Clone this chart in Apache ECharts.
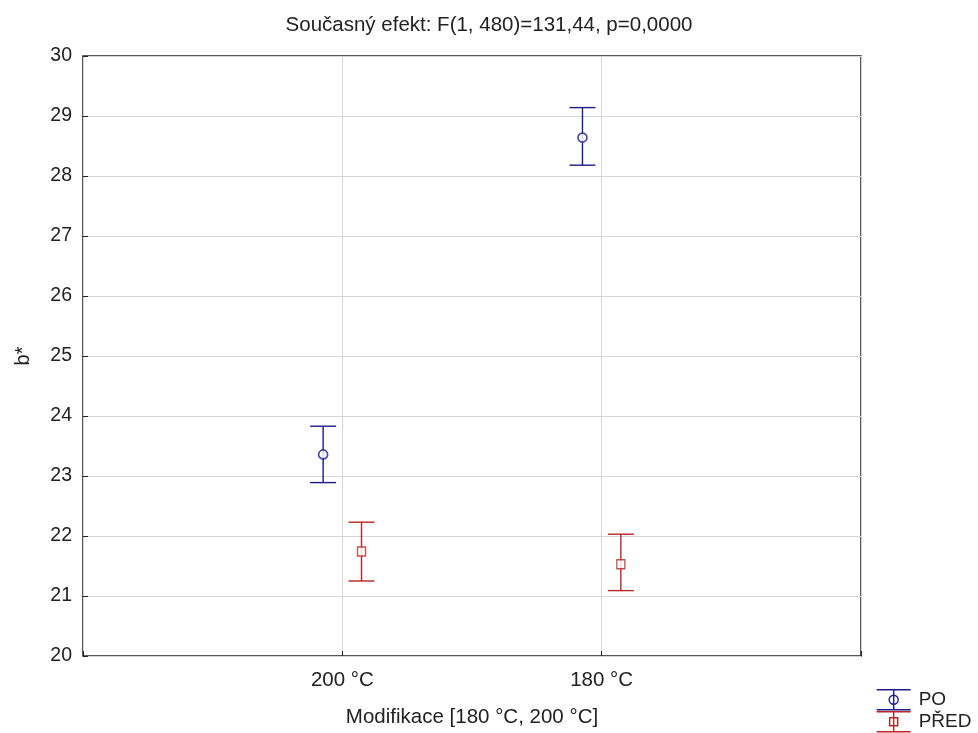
<!DOCTYPE html>
<html>
<head>
<meta charset="utf-8">
<script src="https://cdn.jsdelivr.net/npm/echarts@6/dist/echarts.min.js"></script>
<style>html,body{margin:0;padding:0;background:#fff}#c{width:978px;height:733px}</style>
</head>
<body>
<div id="c"></div>
<script>
const categories = ['200 °C', '180 °C'];
const poMean = [23.36, 28.64];
const poLow = [22.89, 28.18];
const poHigh = [23.83, 29.14];
const predMean = [21.74, 21.53];
const predLow = [21.25, 21.09];
const predHigh = [22.23, 22.03];
const yTicks = [20, 21, 22, 23, 24, 25, 26, 27, 28, 29, 30];

const OFFSET = 0.074;
const BLUE = '#1c1c8a';
const RED = '#b82626';
const FONT = 'Liberation Sans';

function pts(mean, off) { return mean.map((v, i) => [i + 1 + off, v]); }
function bars(low, high, off) { return low.map((v, i) => [i + 1 + off, v, high[i]]); }

function errItem(color) {
  return function (params, api) {
    const x = api.value(0);
    const lo = api.coord([x, api.value(1)]);
    const hi = api.coord([x, api.value(2)]);
    const hw = 13;
    const st = { stroke: color, lineWidth: 1.4 };
    return { type: 'group', children: [
      { type: 'line', shape: { x1: lo[0], y1: lo[1], x2: hi[0], y2: hi[1] }, style: st },
      { type: 'line', shape: { x1: lo[0] - hw, y1: lo[1], x2: lo[0] + hw, y2: lo[1] }, style: st },
      { type: 'line', shape: { x1: hi[0] - hw, y1: hi[1], x2: hi[0] + hw, y2: hi[1] }, style: st }
    ]};
  };
}

function legendFor(name, icon, color, top) {
  return {
    orient: 'vertical', left: 876, top: top, padding: 0,
    itemWidth: 34, itemHeight: 20,
    textStyle: { fontFamily: FONT, fontSize: 19, color: '#222', padding: [0, 0, 0, 3] },
    data: [{ name: name, icon: icon,
      itemStyle: { color: 'transparent', borderColor: color, borderWidth: 1.4 } }]
  };
}

const chart = echarts.init(document.getElementById('c'), null, { renderer: 'canvas' });
chart.setOption({
  backgroundColor: '#fff',
  animation: false,
  textStyle: { fontFamily: FONT },
  title: {
    text: 'Současný efekt: F(1, 480)=131,44, p=0,0000',
    left: 484, top: 10, textAlign: 'center',
    textStyle: { fontFamily: FONT, fontSize: 20.5, fontWeight: 'normal', color: '#222' }
  },
  legend: [
    legendFor('PO', 'path://M0,0L34,0M17,0L17,20M0,20L34,20M12.5,10a4.5,4.5 0 1,0 9,0a4.5,4.5 0 1,0 -9,0z', BLUE, 689),
    legendFor('PŘED', 'path://M0,0L34,0M17,0L17,20M0,20L34,20M13,6L21,6L21,14L13,14Z', RED, 711)
  ],
  grid: { left: 83, right: 117, top: 56, bottom: 77, show: true, borderColor: '#222', borderWidth: 1.5, backgroundColor: 'transparent' },
  xAxis: {
    type: 'value', min: 0, max: 3, interval: 1,
    name: 'Modifikace [180 °C, 200 °C]', nameLocation: 'middle', nameGap: 51,
    nameTextStyle: { fontFamily: FONT, fontSize: 20.5, color: '#222' },
    axisLine: { show: false },
    axisTick: { show: true, inside: true, length: 5, lineStyle: { color: '#222' } },
    axisLabel: { fontFamily: FONT, fontSize: 20.5, color: '#222', margin: 14,
      formatter: v => (v >= 1 && v <= categories.length) ? categories[v - 1] : '' },
    splitLine: { show: true, lineStyle: { color: '#d4d4d4', width: 1 } }
  },
  yAxis: {
    type: 'value', min: yTicks[0], max: yTicks[yTicks.length - 1], interval: 1,
    name: 'b*', nameLocation: 'middle', nameGap: 50, nameRotate: 90,
    nameTextStyle: { fontFamily: FONT, fontSize: 20, color: '#222' },
    axisLine: { show: false },
    axisTick: { show: true, inside: true, length: 5, lineStyle: { color: '#222' } },
    axisLabel: { fontFamily: FONT, fontSize: 19.5, color: '#222', margin: 11 },
    splitLine: { show: true, lineStyle: { color: '#d4d4d4', width: 1 } }
  },
  series: [
    { name: 'PO', type: 'custom', renderItem: errItem(BLUE), data: bars(poLow, poHigh, -OFFSET), z: 2 },
    { name: 'PŘED', type: 'custom', renderItem: errItem(RED), data: bars(predLow, predHigh, OFFSET), z: 2 },
    { name: 'PO', type: 'scatter', data: pts(poMean, -OFFSET), symbol: 'circle', symbolSize: 9,
      itemStyle: { color: '#fff', borderColor: BLUE, borderWidth: 1.6 }, z: 3 },
    { name: 'PŘED', type: 'scatter', data: pts(predMean, OFFSET), symbol: 'rect', symbolSize: [8, 9],
      itemStyle: { color: '#fff', borderColor: RED, borderWidth: 1.4 }, z: 3 }
  ]
});
</script>
</body>
</html>
